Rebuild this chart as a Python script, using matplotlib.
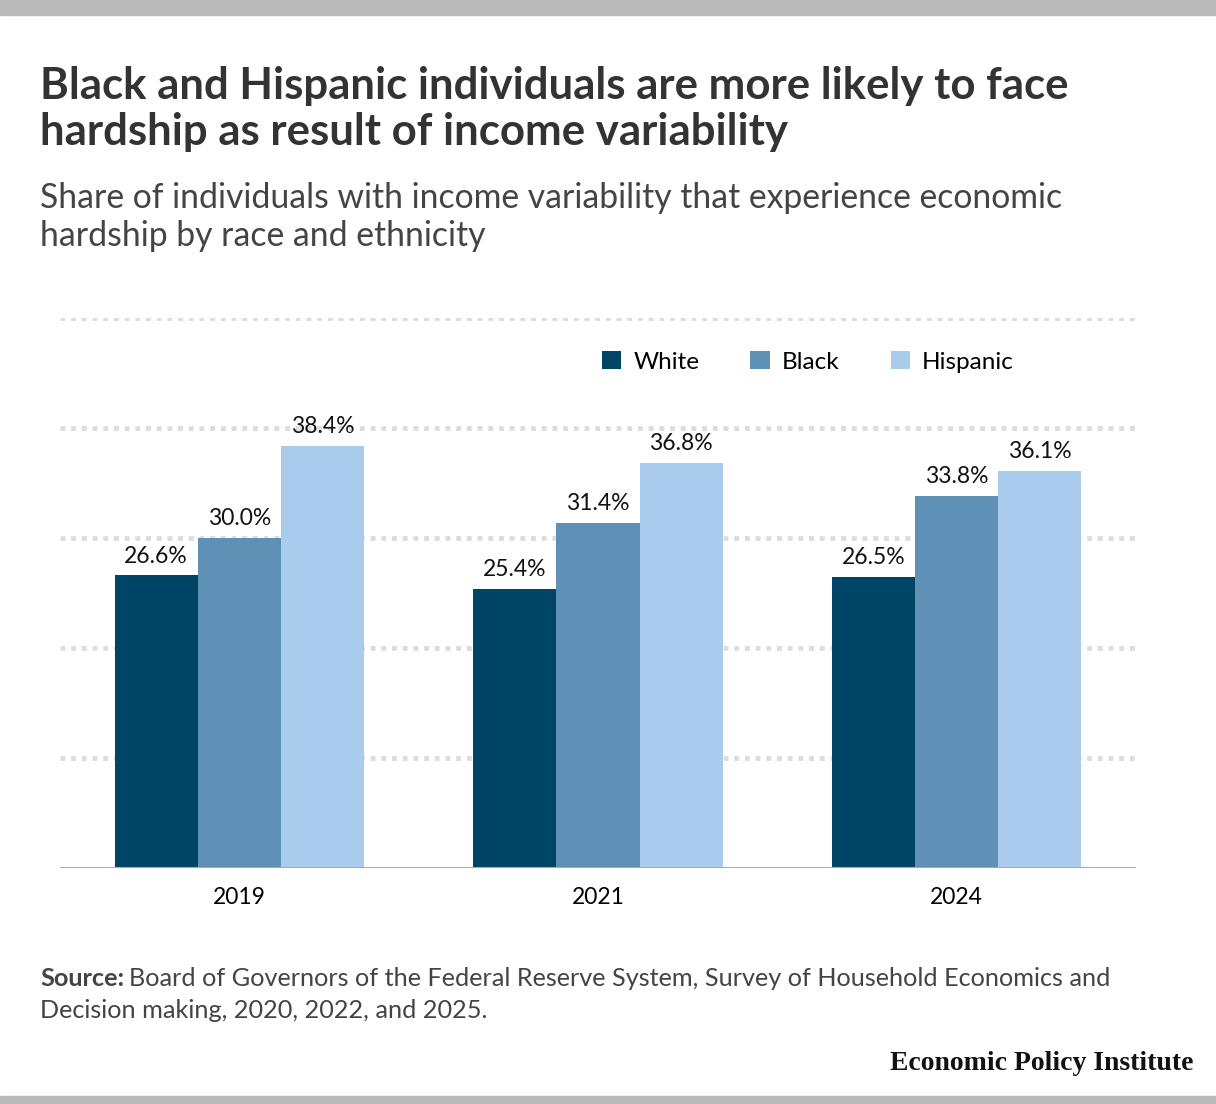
import matplotlib.pyplot as plt
import numpy as np
from matplotlib.patches import Rectangle

plt.rcParams['font.family'] = ['Lato', 'DejaVu Sans']

years = ['2019', '2021', '2024']
white = [26.6, 25.4, 26.5]
black = [30.0, 31.4, 33.8]
hispanic = [38.4, 36.8, 36.1]
series = [('White', white, '#004466'), ('Black', black, '#5f90b5'), ('Hispanic', hispanic, '#a9cced')]

fig = plt.figure(figsize=(12.16, 11.04), dpi=100)
ax = fig.add_axes([60/1216, 236/1104, 1076/1216, 550/1104])

x = np.arange(len(years))
w = 0.232
for k, (name, vals, col) in enumerate(series):
    pos = x + (k - 1) * w
    ax.bar(pos, vals, width=w, color=col, label=name, zorder=3)
    for p, v in zip(pos, vals):
        ax.text(p, v + 0.8, '%.1f%%' % v, ha='center', va='bottom', fontsize=16.5, color='#111111')

ax.set_xlim(-0.5, 2.5)
ax.set_ylim(0, 50)
for g in [10, 20, 30, 40, 50]:
    ax.axhline(g, color='#dddddd', linestyle=(0, (1, 1.2)), linewidth=3.5, zorder=1)
ax.axhline(0, color='#aaaaaa', linewidth=1.5, zorder=4)
for s in ax.spines.values():
    s.set_visible(False)
ax.set_yticks([])
ax.set_xticks(x)
ax.set_xticklabels(years, fontsize=16.5)
ax.tick_params(axis='x', length=0, pad=14)

ax.legend(loc='upper right', bbox_to_anchor=(0.907, 0.98), ncol=3, frameon=False, fontsize=17.5,
          handlelength=0.8, handleheight=0.8, handletextpad=0.5, columnspacing=2.1)

fig.add_artist(Rectangle((0, 1 - 15/1104), 1, 15/1104, color='#bbbbbb', transform=fig.transFigure))
fig.add_artist(Rectangle((0, 0), 1, 8/1104, color='#bbbbbb', transform=fig.transFigure))

fig.text(40/1216, 1 - 109/1104, 'Black and Hispanic individuals are more likely to face\nhardship as result of income variability',
         fontsize=31.5, fontweight='bold', color='#333333', va='center', linespacing=1.18)
fig.text(40/1216, 1 - 217/1104, 'Share of individuals with income variability that experience economic\nhardship by race and ethnicity',
         fontsize=24.3, color='#444444', va='center', linespacing=1.2)

src = fig.text(40/1216, 1 - 979/1104, 'Source:', fontsize=18.2, fontweight='bold', color='#444444', va='center')
fig.canvas.draw()
bb = src.get_window_extent()
fig.text((bb.x1 + 5) / 1216, 1 - 979/1104, 'Board of Governors of the Federal Reserve System, Survey of Household Economics and',
         fontsize=18.2, color='#444444', va='center')
fig.text(40/1216, 1 - 1011/1104, 'Decision making, 2020, 2022, and 2025.', fontsize=18.2, color='#444444', va='center')
fig.text(1193/1216, 1 - 1063/1104, 'Economic Policy Institute', fontsize=20, fontweight='bold',
         family='Liberation Serif', color='#111111', ha='right', va='center')

fig.savefig('out.png', dpi=100)
